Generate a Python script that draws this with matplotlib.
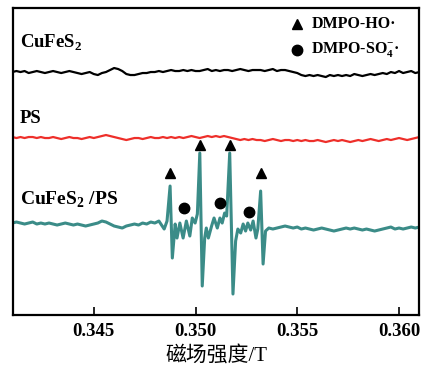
import numpy as np
import matplotlib
matplotlib.use("Agg")
import matplotlib.pyplot as plt

plt.rcParams["font.family"] = ["Liberation Serif", "Noto Sans CJK SC"]
plt.rcParams["mathtext.fontset"] = "custom"
plt.rcParams["mathtext.rm"] = "Liberation Serif"
plt.rcParams["mathtext.bf"] = "Liberation Serif:bold"

# magnetic field grid for the flat traces (T)
field = np.round(np.arange(0.341, 0.36101, 0.0002), 5)

# CuFeS2 alone: flat noisy baseline (a.u., deviation from its offset)
cufes2 = [0, 1, 0, 1, -1, 0, 1, 0, -1, 0,
          1, 0, -1, 0, 1, 0, -1, -2, -1, 0,
          -2, -3, -1, 0, 2, 4, 3, 1, -2, -3,
          -3, -2, -1, -1, 0, 0, 1, 0, 1, 2,
          1, 1, 2, 1, 2, 1, 1, 2, 3, 1,
          2, 1, 2, 2, 1, 2, 3, 2, 1, 2,
          2, 2, 1, 2, 3, 1, 2, 2, 1, 0,
          -1, -3, -4, -3, -4, -3, -4, -5, -3, -4,
          -3, -4, -3, -4, -2, -3, -4, -3, -2, -3,
          -2, -1, -2, 0, -1, 1, -1, 0, 1, -1, 0]

# PS alone
ps = [1, 0, 1, 0, 1, 1, 0, 1, 0, 0,
      1, 0, -1, 0, 1, 0, 0, -1, 0, 1,
      0, 1, 2, 3, 2, 1, 0, -1, -2, -1,
      0, 0, -1, 0, 1, 0, 0, 1, 0, 1,
      0, 1, 0, 1, 2, 1, 0, 1, 2, 1,
      2, 1, 2, 1, 0, -1, -2, -1, -2, -1,
      -2, -2, -3, -2, -1, -2, -3, -2, -2, -3,
      -2, -3, -2, -3, -3, -2, -3, -4, -3, -2,
      -3, -2, -3, -4, -3, -2, -3, -2, -1, -2,
      -3, -2, -1, -2, -1, 0, -1, -2, -1, 0, 1]

# CuFeS2/PS: DMPO-HO· quartet with DMPO-SO4·- lines in between
mix_left = [2, 3, 2, 1, 2, 3, 1, 2, 1, 2,
            1, 0, 1, 2, 1, 0, 1, 0, -1, 0,
            1, 2, 4, 3, 1, -1, -2, -3, -1, 0,
            1, 0, 2, 1, 3, 2]
peak_field = [0.3482, 0.34846, 0.34860, 0.34875, 0.34886, 0.34900, 0.34909,
              0.34923, 0.34939, 0.34955, 0.34972, 0.34984, 0.34998, 0.35009,
              0.35021, 0.35033, 0.35045, 0.35053, 0.35063, 0.35079, 0.35091,
              0.35107, 0.35120, 0.35131, 0.35143, 0.35153, 0.35168, 0.35184,
              0.35197, 0.35208, 0.35222, 0.35234, 0.35246, 0.35257, 0.35271,
              0.35283, 0.35297, 0.35306, 0.35320, 0.35332, 0.35344, 0.35360,
              0.35380]
peak_int = [4, -4, 4, 39, -33, 1, -13, 2, -13, 4, -11, 7, 2, 11, 72, -61,
            -13, -3, -13, -1, 7, -3, 7, 2, 12, 9, 72, -69, -16, -4, -8, 1,
            -6, 2, -5, 4, -13, -4, 34, -39, -6, -3, -4]
mix_right = [-3, -2, -1, -2, -3, -2, -4, -3, -4, -5,
             -4, -3, -4, -5, -6, -5, -4, -3, -4, -3,
             -4, -5, -4, -5, -6, -5, -4, -3, -2, -4,
             -3, -4, -3, -2, -3, -2]

offsets = {"CuFeS2": 243, "PS": 177, "mix": 90}

# marker positions for the radical adducts
tri_field = [0.34875, 0.35021, 0.35168, 0.35320]
tri_y = [142, 170, 170, 142]
dot_field = [0.34944, 0.35120, 0.35262]
dot_y = [107, 112, 103]

xticks = [0.345, 0.350, 0.355, 0.360]

mix_field = np.concatenate([field[field <= 0.34801], peak_field, field[field >= 0.35399]])
mix = np.concatenate([mix_left, peak_int, mix_right])

fig = plt.figure(figsize=(4.27, 3.70), dpi=100)
ax = fig.add_axes([0.0304, 0.1486, 0.9508, 0.8297])

ax.plot(field, np.array(cufes2) + offsets["CuFeS2"], color="black", lw=1.6)
ax.plot(field, np.array(ps) + offsets["PS"], color="#ee2f2a", lw=1.6)
ax.plot(mix_field, mix + offsets["mix"], color="#3b8c88", lw=2.2)

ax.plot(tri_field, tri_y, "^", color="black", ms=6.5, ls="none")
ax.plot(dot_field, dot_y, "o", color="black", ms=7.5, ls="none")

ax.set_xlim(0.34103, 0.36098)
ax.set_ylim(0, 307)
ax.set_yticks([])
ax.set_xticks(xticks)
ax.set_xticklabels([f"{t:.3f}" for t in xticks], fontsize=13.5, fontweight="bold")
ax.tick_params(axis="x", direction="in", length=6, width=1.2, pad=6)
for sp in ax.spines.values():
    sp.set_linewidth(1.6)

ax.set_xlabel("磁场强度/T", fontsize=15, labelpad=4)

bold = dict(fontweight="bold", transform=ax.transAxes, va="center", ha="left")
ax.text(0.017, 0.885, r"CuFeS$_\mathbf{2}$", fontsize=13.5, **bold)
ax.text(0.017, 0.64, "PS", fontsize=13.5, **bold)
ax.text(0.017, 0.375, r"CuFeS$_\mathbf{2}$ /PS", fontsize=14, **bold)

ax.plot([0.70], [0.948], "^", color="black", ms=6.5, transform=ax.transAxes)
ax.plot([0.70], [0.863], "o", color="black", ms=7.5, transform=ax.transAxes)
ax.text(0.735, 0.948, "DMPO-HO·", fontsize=11.5, **bold)
ax.text(0.735, 0.863, r"DMPO-SO$_\mathbf{4}^{\mathbf{-}}$·", fontsize=11.5, **bold)

fig.savefig("out.png", dpi=100)
